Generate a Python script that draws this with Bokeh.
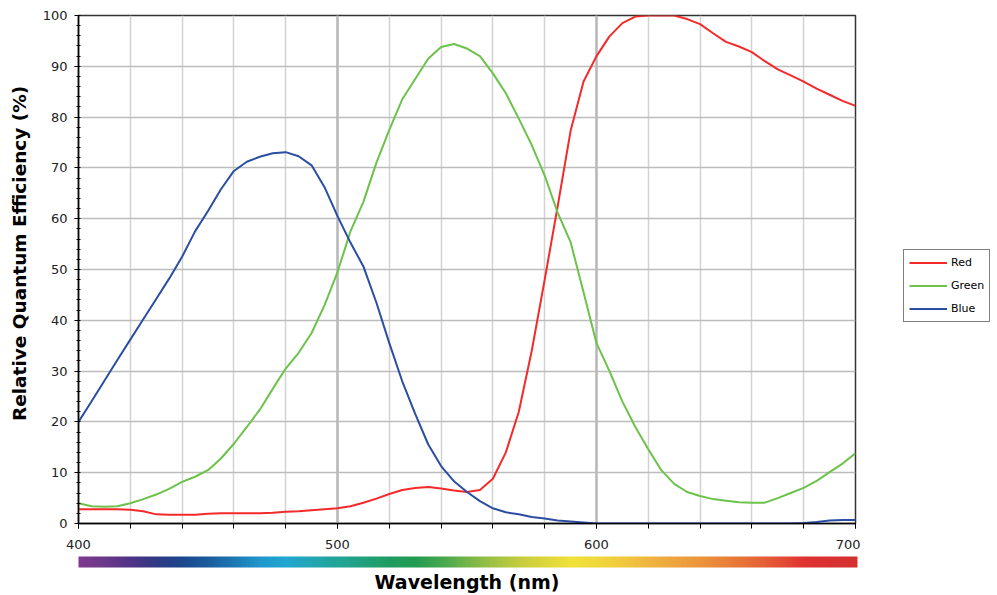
from bokeh.plotting import figure
from bokeh.models import (ColorBar, LinearColorMapper, FixedTicker, LinearAxis,
                          Legend, LegendItem, Range1d)
from bokeh.layouts import row
from bokeh.embed import file_html
from bokeh.resources import INLINE

# ---- data ----
wavelength = list(range(400, 701, 5))

red = [2.8, 2.8, 2.8, 2.8, 2.7, 2.4, 1.8, 1.7, 1.7, 1.7,
       1.9, 2.0, 2.0, 2.0, 2.0, 2.1, 2.3, 2.4, 2.6, 2.8,
       3.0, 3.4, 4.1, 4.9, 5.8, 6.6, 7.0, 7.2, 6.9, 6.5,
       6.2, 6.6, 8.8, 14.0, 22.0, 34.0, 48.0, 62.4, 77.3, 87.0,
       92.0, 95.9, 98.5, 99.8, 100.0, 100.0, 100.0, 99.3, 98.3, 96.5,
       94.8, 93.9, 92.8, 91.0, 89.4, 88.2, 87.0, 85.6, 84.4, 83.2,
       82.2]

green = [4.0, 3.4, 3.3, 3.4, 4.0, 4.8, 5.7, 6.8, 8.2, 9.2,
         10.5, 12.8, 15.7, 19.0, 22.4, 26.5, 30.5, 33.6, 37.5, 43.0,
         49.5, 57.5, 63.3, 71.0, 77.5, 83.5, 87.5, 91.5, 93.8, 94.4,
         93.5, 92.0, 88.6, 84.7, 79.7, 74.5, 68.5, 61.2, 55.4, 45.5,
         35.5, 30.0, 24.0, 19.0, 14.6, 10.5, 7.8, 6.2, 5.4, 4.8,
         4.5, 4.2, 4.1, 4.1, 5.0, 6.0, 7.0, 8.4, 10.1, 11.8,
         13.8]

blue = [20.0, 24.0, 28.1, 32.2, 36.2, 40.2, 44.2, 48.2, 52.5, 57.5,
        61.5, 65.8, 69.4, 71.2, 72.2, 72.9, 73.1, 72.3, 70.5, 66.2,
        60.5, 55.3, 50.6, 43.5, 35.5, 28.0, 21.6, 15.6, 11.3, 8.3,
        6.2, 4.4, 3.0, 2.2, 1.8, 1.3, 1.0, 0.6, 0.4, 0.2,
        0.0, 0.0, 0.0, 0.0, 0.0, 0.0, 0.0, 0.0, 0.0, 0.0,
        0.0, 0.0, 0.0, 0.0, 0.0, 0.0, 0.1, 0.3, 0.6, 0.7,
        0.7]

series_names = ["Red", "Green", "Blue"]
series_colors = ["#f42a2a", "#6cc24a", "#2b4ea2"]

x_major_ticks = [400, 500, 600, 700]
x_minor_ticks = list(range(400, 701, 20))
y_major_ticks = list(range(0, 101, 10))
y_minor_ticks = list(range(0, 101, 2))

# spectrum colour stops for the wavelength strip (style)
spectrum_nm = [400, 410, 420, 430, 440, 450, 460, 470, 480, 490, 500, 510, 520, 530,
               540, 550, 560, 570, 580, 590, 600, 610, 620, 630, 640, 650, 660, 670,
               680, 690, 700]
spectrum_hex = ["#7e3a8e", "#6b3789", "#4f3386", "#2f3a84", "#1c478e", "#1a5c9e",
                "#1e78b4", "#1f98cc", "#22a5d0", "#23a6b2", "#21a596", "#20a07c",
                "#1e9c60", "#239c52", "#45a84c", "#74b548", "#a0c244", "#c4cc3e",
                "#dcd63c", "#f0e23a", "#efd83c", "#f0c83e", "#efb53f", "#eea43e",
                "#ec943c", "#e9803a", "#e66a37", "#e45034", "#e03232", "#d83030",
                "#d43030"]


def hex_to_rgb(h):
    h = h.lstrip("#")
    return tuple(int(h[i:i + 2], 16) for i in (0, 2, 4))


palette = []
for nm in range(400, 701):
    for i in range(len(spectrum_nm) - 1):
        if spectrum_nm[i] <= nm <= spectrum_nm[i + 1]:
            t = (nm - spectrum_nm[i]) / (spectrum_nm[i + 1] - spectrum_nm[i])
            a = hex_to_rgb(spectrum_hex[i])
            b = hex_to_rgb(spectrum_hex[i + 1])
            c = tuple(round(a[k] + (b[k] - a[k]) * t) for k in range(3))
            palette.append("#%02x%02x%02x" % c)
            break

FONT = "DejaVu Sans"

p = figure(width=860, height=595, x_range=(400, 700), y_range=(0, 100),
           output_backend="svg", toolbar_location=None,
           min_border_left=78, min_border_right=5, min_border_top=15,
           min_border_bottom=71, background_fill_color="white",
           border_fill_color="white")

p.outline_line_color = "#333333"
p.outline_line_width = 1.5

# x axis
xa = p.xaxis[0]
xa.ticker = FixedTicker(ticks=x_major_ticks, minor_ticks=x_minor_ticks)
xa.major_tick_out = 5
xa.major_tick_in = 0
xa.minor_tick_out = 5
xa.minor_tick_in = 0
xa.major_tick_line_color = "black"
xa.minor_tick_line_color = "black"
xa.axis_line_color = "black"
xa.axis_line_width = 1.5
xa.major_label_text_font = FONT
xa.major_label_text_font_size = "13px"
xa.major_label_text_color = "#222222"
xa.major_label_standoff = 11

# y axis
ya = p.yaxis[0]
ya.ticker = FixedTicker(ticks=y_major_ticks, minor_ticks=y_minor_ticks)
ya.major_tick_out = 4
ya.major_tick_in = 0
ya.minor_tick_out = 2
ya.minor_tick_in = 2
ya.major_tick_line_color = "black"
ya.minor_tick_line_color = "black"
ya.axis_line_color = "black"
ya.axis_line_width = 1.5
ya.major_label_text_font = FONT
ya.major_label_text_font_size = "13px"
ya.major_label_text_color = "#222222"
ya.major_label_standoff = 7
ya.axis_label = "\u00a0\u00a0\u00a0\u00a0\u00a0Relative Quantum Efficiency (%)"
ya.axis_label_text_font = FONT
ya.axis_label_text_font_style = "bold"
ya.axis_label_text_font_size = "18.5px"
ya.axis_label_text_color = "black"
ya.axis_label_standoff = 10

# grids
p.xgrid.grid_line_color = "#b8b8b8"
p.xgrid.grid_line_width = 2.5
p.xgrid.minor_grid_line_color = "#d2d2d2"
p.xgrid.minor_grid_line_width = 1.5
p.ygrid.grid_line_color = "#bcbcbc"
p.ygrid.grid_line_width = 1.5

# curves
for name, ys, col in zip(series_names, [red, green, blue], series_colors):
    p.line(wavelength, ys, line_color=col, line_width=2)

# wavelength colour strip
mapper = LinearColorMapper(palette=palette, low=400, high=700)
cb = ColorBar(color_mapper=mapper, orientation="horizontal", width=779, height=11,
              location=(0, 0), padding=0, margin=0,
              title=" ", title_text_font_size="1px", title_standoff=2,
              ticker=FixedTicker(ticks=[]), major_tick_line_color=None,
              minor_tick_line_color=None, bar_line_color=None,
              border_line_color=None, background_fill_alpha=0,
              major_label_text_font_size="0px", label_standoff=0)
p.add_layout(cb, "below")

# x axis title below the strip
xl = LinearAxis(ticker=FixedTicker(ticks=[]), axis_line_color=None,
                major_tick_line_color=None, minor_tick_line_color=None,
                major_tick_out=0, minor_tick_out=0, major_label_text_font_size="0px",
                major_label_standoff=0)
xl.axis_label = "Wavelength (nm)"
xl.axis_label_text_font = FONT
xl.axis_label_text_font_style = "bold"
xl.axis_label_text_font_size = "19px"
xl.axis_label_text_color = "black"
xl.axis_label_standoff = 3
p.add_layout(xl, "below")

# legend panel to the right of the chart (proxy lines kept outside its view)
lp = figure(width=137, height=595, output_backend="svg", toolbar_location=None,
            x_axis_type=None, y_axis_type=None, min_border=0,
            x_range=Range1d(10, 11), y_range=Range1d(10, 11),
            background_fill_color="white", border_fill_color="white")
lp.outline_line_color = None
lp.grid.visible = False
legend_renderers = [lp.line(x=[0, 1], y=[0, 0], line_color=c, line_width=2)
                    for c in series_colors]
lg = Legend(items=[LegendItem(label=n, renderers=[r]) for n, r in zip(series_names, legend_renderers)],
            location=(43, 201), margin=0, padding=5, spacing=8,
            glyph_width=38, glyph_height=15, label_height=15, label_standoff=4,
            label_text_font=FONT, label_text_font_size="11px",
            label_text_color="black", border_line_color="black",
            border_line_width=1, background_fill_color="white",
            background_fill_alpha=1)
lp.add_layout(lg, "center")

layout = row(p, lp)
open("out.html", "w").write(file_html(layout, INLINE))
